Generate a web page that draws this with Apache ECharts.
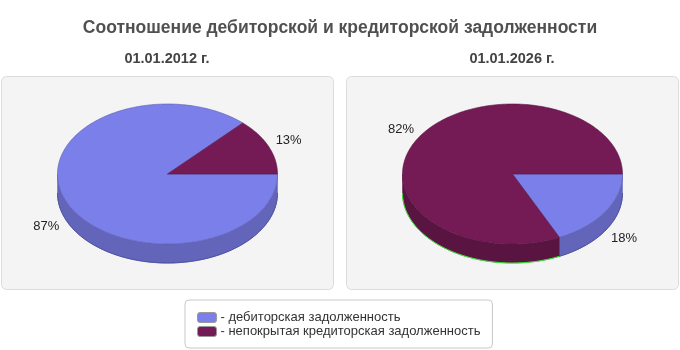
<!DOCTYPE html>
<html><head><meta charset="utf-8">
<script src="https://cdn.jsdelivr.net/npm/echarts@6/dist/echarts.min.js"></script>
<style>html,body{margin:0;padding:0;background:#fff}#c{width:680px;height:350px}</style>
</head><body><div id="c"></div>
<script>
const chartTitle = 'Соотношение дебиторской и кредиторской задолженности';
const pieDates = ['01.01.2012 г.', '01.01.2026 г.'];
const seriesNames = ['- дебиторская задолженность', '- непокрытая кредиторская задолженность'];
const debitValues = [87, 18];
const creditValues = [13, 82];

const valuesBySeries = [debitValues, creditValues];
const FONT = '"Liberation Sans", Arial, sans-serif';
const palette = [
  {top:'#7b7fe9', side:'#6265b9', edge:'#5a5db0', bottom:'#4b4e9c'},
  {top:'#741b55', side:'#5a1442', edge:'#5e1546', bottom:'#33ee33'}
];
const geo = {centers:[[167.5,174],[512.5,174]], rx:110, ry:70, depth:19};

function ellPt(c, a, dy){ return [c[0]+geo.rx*Math.cos(a), c[1]+geo.ry*Math.sin(a)+(dy||0)]; }

function renderSlice(params, api){
  const s = params.seriesIndex, p = params.dataIndex;
  let total = 0, start = 0;
  for (let k = 0; k < valuesBySeries.length; k++) {
    total += valuesBySeries[k][p];
    if (k < s) start += valuesBySeries[k][p];
  }
  const v = api.value(0);
  const a1 = start/total*2*Math.PI, a2 = (start+v)/total*2*Math.PI;
  const c = geo.centers[p];
  const col = palette[s];
  const children = [];
  const s1 = Math.max(a1, 0), s2 = Math.min(a2, Math.PI);
  if (s2 > s1) {
    const n = Math.max(2, Math.ceil((s2-s1)/0.02));
    const pts = [], bot = [];
    for (let i = 0; i <= n; i++) {
      const a = s1 + (s2-s1)*i/n;
      pts.push(ellPt(c, a, 0));
      bot.push(ellPt(c, a, geo.depth));
    }
    children.push({type:'polygon', shape:{points: pts.concat(bot.slice().reverse())},
      style:{fill:col.side, stroke:col.side, lineWidth:0.5}});
    children.push({type:'polyline', shape:{points: bot},
      style:{stroke:col.bottom, lineWidth:1, fill:null}});
  }
  const n = Math.max(2, Math.ceil((a2-a1)/0.02));
  const tp = [c.slice()];
  for (let i = 0; i <= n; i++) tp.push(ellPt(c, a1+(a2-a1)*i/n, 0));
  children.push({type:'polygon', shape:{points: tp}, z2:10,
    style:{fill:col.top, stroke:col.edge, lineWidth:0.6}});
  const m = (a1+a2)/2;
  const lx = c[0] + 1.2*geo.rx*Math.cos(m);
  const ly = c[1] + 1.2*geo.ry*Math.sin(m) + (Math.sin(m) > 0 ? geo.depth : 0);
  children.push({type:'text', x:lx, y:ly, z2:20,
    style:{text: Math.round(v/total*100)+'%', fill:'#222', font:'13px '+FONT, align:'center', verticalAlign:'middle'}});
  return {type:'group', children};
}

const chart = echarts.init(document.getElementById('c'), null, {renderer:'canvas'});
chart.setOption({
  animation:false,
  backgroundColor:'#fff',
  title:{text: chartTitle, left:'center', top:14,
    textStyle:{fontSize:17.5, fontWeight:'bold', color:'#505050', fontFamily:FONT}},
  graphic:[
    {type:'rect', shape:{x:1.5, y:76.5, width:332, height:213, r:5}, style:{fill:'#f4f4f4', stroke:'#dcdcdc', lineWidth:1}, z:-10},
    {type:'rect', shape:{x:346.5, y:76.5, width:332, height:213, r:5}, style:{fill:'#f4f4f4', stroke:'#dcdcdc', lineWidth:1}, z:-10},
    {type:'text', x:167, y:59, style:{text:pieDates[0], font:'bold 14.5px '+FONT, fill:'#444', align:'center', verticalAlign:'middle'}},
    {type:'text', x:512, y:59, style:{text:pieDates[1], font:'bold 14.5px '+FONT, fill:'#444', align:'center', verticalAlign:'middle'}}
  ],
  legend:{orient:'vertical', left:185, top:300, padding:[11,12,10,12], itemGap:1,
    itemWidth:19, itemHeight:10, icon:'roundRect', backgroundColor:'#fff',
    borderColor:'#c8c8c8', borderWidth:1, borderRadius:4,
    itemStyle:{borderColor:'#999', borderWidth:1},
    textStyle:{fontSize:13, color:'#333', fontFamily:FONT, padding:[0,0,0,-1]},
    selectedMode:false, data: seriesNames},
  series: seriesNames.map((name, i) => ({
    type:'custom', name, coordinateSystem:'none', silent:true,
    itemStyle:{color: palette[i].top},
    renderItem: renderSlice,
    data: valuesBySeries[i].map(v => [v])
  }))
});
</script></body></html>
